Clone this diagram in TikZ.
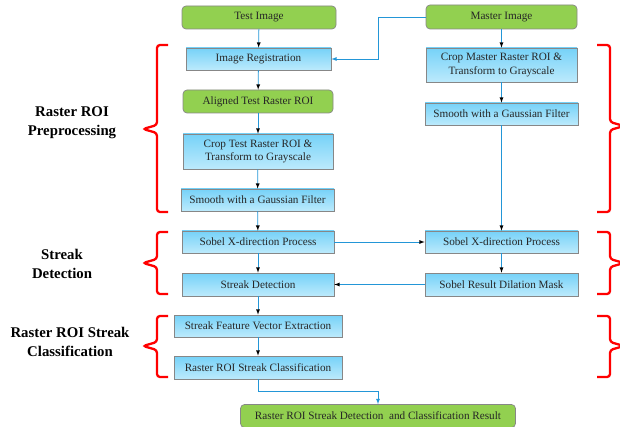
\documentclass[tikz,border=0pt]{standalone}
\usepackage{fontspec}
\setmainfont{Liberation Serif}
\usepackage{tikz}
\usetikzlibrary{arrows}

\definecolor{flowblue}{RGB}{35,150,215}
\definecolor{boxtop}{RGB}{118,210,248}
\definecolor{boxbot}{RGB}{188,234,252}
\definecolor{greenbox}{RGB}{146,208,80}
\definecolor{edgegray}{RGB}{135,135,135}

\tikzset{
  stage/.style={draw=edgegray, line width=0.7pt, top color=boxtop, bottom color=boxbot,
    minimum height=22pt, inner sep=1pt, align=center, text=black!85,
    font=\fontsize{11.2}{13.5}\selectfont},
  data/.style={draw=edgegray, line width=0.7pt, fill=greenbox, rounded corners=4pt,
    minimum height=23pt, inner sep=1pt, align=center, text=black!85,
    font=\fontsize{11.2}{13.5}\selectfont},
  flow/.style={->, >=latex, draw=flowblue, line width=0.8pt},
  redbrace/.style={draw=red, line width=2.3pt, rounded corners=3pt},
  phase/.style={align=center, font=\bfseries\fontsize{14.8}{19}\selectfont}
}

\begin{document}
\begin{tikzpicture}[x=1pt, y=-1pt]
  \useasboundingbox (0,0) rectangle (620,427);

  % test image column
  \draw (259,17.5) node[data, minimum width=154pt] (test) {Test Image};
  \draw (258.5,59) node[stage, minimum width=145pt] (reg) {Image Registration};
  \draw (258,101.5) node[data, minimum width=150pt] (aligned) {Aligned Test Raster ROI};
  \draw (258,151.5) node[stage, minimum width=150pt, minimum height=35pt] (croptest) {Crop Test Raster ROI \&\\Transform to Grayscale};
  \draw (257.5,200) node[stage, minimum width=153pt] (smoothtest) {Smooth with a Gaussian Filter};
  \draw (258,242) node[stage, minimum width=152pt] (sobeltest) {Sobel X-direction Process};
  \draw (258,284.5) node[stage, minimum width=152pt, minimum height=23pt] (streak) {Streak Detection};
  \draw (258,326) node[stage, minimum width=168pt] (feature) {Streak Feature Vector Extraction};
  \draw (258,367.5) node[stage, minimum width=168pt, minimum height=23pt] (classif) {Raster ROI Streak Classification};

  % master image column
  \draw (501.5,17) node[data, minimum width=151pt, minimum height=24pt] (master) {Master Image};
  \draw (501.5,65) node[stage, minimum width=151pt, minimum height=34pt] (cropmaster) {Crop Master Raster ROI \&\\Transform to Grayscale};
  \draw (501.5,114) node[stage, minimum width=153pt] (smoothmaster) {Smooth with a Gaussian Filter};
  \draw (501.5,242) node[stage, minimum width=153pt] (sobelmaster) {Sobel X-direction Process};
  \draw (501.5,284.5) node[stage, minimum width=153pt, minimum height=23pt] (dilation) {Sobel Result Dilation Mask};

  \draw (378,416) node[data, minimum width=275pt] (result) {Raster ROI Streak Detection ~and Classification Result};

  \coordinate (masterbend) at (378,17);
  \coordinate (resultbend) at (378,391);

  \path[flow] (test) edge (reg);
  \path[flow] (reg) edge (aligned);
  \path[flow] (aligned) edge (croptest);
  \path[flow] (croptest) edge (smoothtest);
  \path[flow] (smoothtest) edge (sobeltest);
  \path[flow] (sobeltest) edge (streak);
  \path[flow] (streak) edge (feature);
  \path[flow] (feature) edge (classif);
  \path[flow] (master) edge (cropmaster);
  \path[flow] (cropmaster) edge (smoothmaster);
  \path[flow] (smoothmaster) edge (sobelmaster);
  \path[flow] (sobelmaster) edge (dilation);
  \path[flow] (sobeltest) edge (sobelmaster);
  \path[flow] (dilation) edge (streak);
  \draw[flow] (master.west) -- (masterbend) |- (reg.east);
  \draw[flow] (classif.south) |- (resultbend) -- (result.north);

  % braces
  \draw[redbrace] (168,45) -- (157,45) -- (157,125) -- (143,129) -- (157,133) -- (157,212) -- (168,212);
  \draw[redbrace] (168,232) -- (157,232) -- (157,259) -- (143,263) -- (157,267) -- (157,294) -- (168,294);
  \draw[redbrace] (168,316) -- (157,316) -- (157,342) -- (143,346) -- (157,350) -- (157,377) -- (168,377);
  \draw[redbrace] (597,45) -- (610,45) -- (610,122) -- (624,126) -- (610,130) -- (610,212) -- (597,212);
  \draw[redbrace] (597,232) -- (610,232) -- (610,259) -- (624,263) -- (610,267) -- (610,294) -- (597,294);
  \draw[redbrace] (597,316) -- (610,316) -- (610,342) -- (624,346) -- (610,350) -- (610,377) -- (597,377);

  \draw (72,123) node[phase] (prep) {Raster ROI\\Preprocessing};
  \draw (62,264) node[phase] (detect) {Streak\\Detection};
  \draw (70,342) node[phase] (classify) {Raster ROI Streak\\Classification};
\end{tikzpicture}
\end{document}
